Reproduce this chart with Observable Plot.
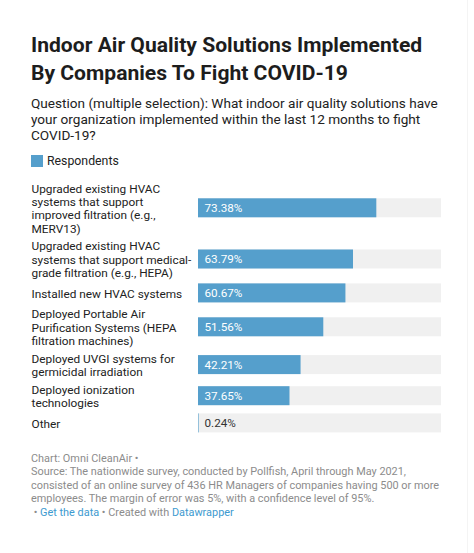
<!DOCTYPE html>
<html>
<head>
<meta charset="utf-8">
<script src="https://cdn.jsdelivr.net/npm/d3@7"></script>
<script src="https://cdn.jsdelivr.net/npm/@observablehq/plot@0.6"></script>
<style>
  html, body { margin: 0; padding: 0; background: #fff; }
  body { width: 474px; height: 553px; overflow: hidden; font-family: Roboto, "Noto Sans", sans-serif; position: relative; }
  #frame { position: absolute; right: 6px; top: 0; bottom: 0; width: 1px; background: #f4f4f4; }
  #head { padding: 31px 0 0 31px; }
  h1 { margin: 0; font-size: 21.1px; line-height: 28px; font-weight: 700; color: #1d1d1d; width: 405px; }
  .sub { margin: 8px 0 0 0; font-size: 13.6px; line-height: 16px; color: #222; width: 420px; }
  .legend { margin-top: 10px; font-size: 12.3px; line-height: 16px; color: #222; display: flex; align-items: center; }
  .legend .sw { width: 12px; height: 12px; margin-right: 4px; display: inline-block; }
  #chart { margin-top: 3px; }
  #chart svg { display: block; font-family: Roboto, "Noto Sans", sans-serif; }
  .foot { margin: 11.5px 0 0 31px; font-size: 10.9px; line-height: 13.5px; color: #8c8c8c; width: 412px; }
  .foot a { color: #3d9ad0; text-decoration: none; }
</style>
</head>
<body>
<div id="frame"></div>
<div id="head">
  <h1>Indoor Air Quality Solutions Implemented By Companies To Fight COVID-19</h1>
  <div class="sub">Question (multiple selection): What indoor air quality solutions have your organization implemented within the last 12 months to fight COVID-19?</div>
  <div class="legend"><span class="sw" id="sw"></span>Respondents</div>
</div>
<div id="chart"></div>
<div class="foot">
  Chart: Omni CleanAir •<br>
  Source: The nationwide survey, conducted by Pollfish, April through May 2021, consisted of an online survey of 436 HR Managers of companies having 500 or more employees. The margin of error was 5%, with a confidence level of 95%.<br>
  &nbsp;• <a>Get the data</a> • Created with <a>Datawrapper</a>
</div>
<script>
// ---- data ----
const categories = [
  "Upgraded existing HVAC\nsystems that support\nimproved filtration (e.g.,\nMERV13)",
  "Upgraded existing HVAC\nsystems that support medical-\ngrade filtration (e.g., HEPA)",
  "Installed new HVAC systems",
  "Deployed Portable Air\nPurification Systems (HEPA\nfiltration machines)",
  "Deployed UVGI systems for\ngermicidal irradiation",
  "Deployed ionization\ntechnologies",
  "Other"
];
const respondents = [73.38, 63.79, 60.67, 51.56, 42.21, 37.65, 0.24];
const seriesName = "Respondents";

// ---- layout ----
const barColor = "#559fcc";
const trackColor = "#f0f0f0";
document.getElementById("sw").style.background = barColor;

const LH = 13.4, BAR = 19, GAP = 4.3, LABEL_FS = 11.85;
let cursor = 0;
const rows = categories.map((c, i) => {
  const lines = c.split("\n").length;
  const h = Math.max(lines * LH, BAR);
  const mid = cursor + h / 2;
  const r = {label: c, value: respondents[i], mid, y1: mid - BAR / 2, y2: mid + BAR / 2};
  cursor += h + GAP;
  return r;
});
const total = cursor - GAP;
const mTop = 9, mBottom = 8;
const W = 474, left = 198, right = 441;

const chart = Plot.plot({
  width: W,
  height: mTop + total + mBottom,
  marginLeft: left,
  marginRight: W - right,
  marginTop: mTop,
  marginBottom: mBottom,
  x: {domain: [0, 100], axis: null},
  y: {domain: [0, total], range: [mTop, mTop + total], axis: null},
  marks: [
    Plot.rectX(rows, {x1: 0, x2: 100, y1: "y1", y2: "y2", fill: trackColor}),
    Plot.rectX(rows, {x1: 0, x2: "value", y1: "y1", y2: "y2", fill: barColor}),
    Plot.text(rows, {x: 0, y: "mid", text: d => d.value.toFixed(2) + "%", textAnchor: "start", dx: 6,
      fill: d => d.value > 5 ? "white" : "#333", fontSize: 11.7, lineAnchor: "middle"}),
    Plot.text(rows, {x: 0, y: "mid", text: "label", textAnchor: "start", dx: -(left - 31),
      fill: "#222", fontSize: LABEL_FS, lineHeight: LH / LABEL_FS, lineAnchor: "middle"})
  ]
});
document.getElementById("chart").appendChild(chart);
</script>
</body>
</html>
